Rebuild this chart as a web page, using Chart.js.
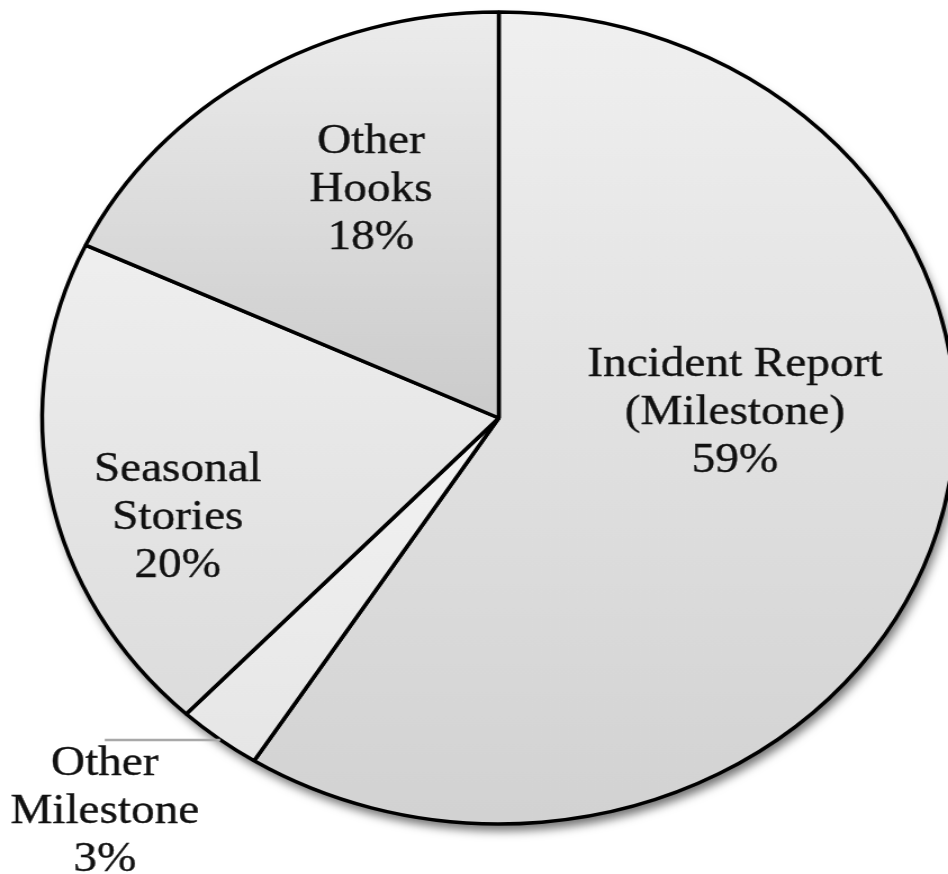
<!DOCTYPE html>
<html>
<head>
<meta charset="utf-8">
<script src="https://cdn.jsdelivr.net/npm/chart.js@4/dist/chart.umd.min.js"></script>
<style>
  html, body { margin: 0; padding: 0; background: #ffffff; overflow: hidden; }
  #wrap { width: 843px; height: 874px; transform: scaleX(1.1246); transform-origin: 0 0; }
</style>
</head>
<body>
<div id="wrap"><canvas id="pie" width="843" height="874"></canvas></div>
<script>
// data
const categories = ['Incident Report (Milestone)', 'Other Milestone', 'Seasonal Stories', 'Other Hooks'];
const shares = [59, 3, 20, 18];
const labelLines = [
    ['Incident Report', '(Milestone)', '59%'],
    ['Other', 'Milestone', '3%'],
    ['Seasonal', 'Stories', '20%'],
    ['Other', 'Hooks', '18%']
];

// styling
const gradTop = ['#f0f0f0', '#f3f3f3', '#efefef', '#ececec'];
const gradBottom = ['#d2d2d2', '#e6e6e6', '#dcdcdc', '#cbcbcb'];
// label anchor, in radius units from the pie centre
const labelAt = [[0.517, -0.012], [-0.863, 0.97], [-0.703, 0.246], [-0.28, -0.562]];
const FONT = '42px "Liberation Serif", serif';
const LINE_H = 48;
const PIE_R = 406;

function sliceGradient(context) {
    const chart = context.chart;
    const area = chart.chartArea;
    const i = context.dataIndex;
    if (!area) return gradTop[i];
    const cx = (area.left + area.right) / 2;
    const cy = (area.top + area.bottom) / 2;
    const total = shares.reduce((a, b) => a + b, 0);
    const before = shares.slice(0, i).reduce((a, b) => a + b, 0);
    const start = -Math.PI / 2 + before / total * Math.PI * 2;
    const end = start + shares[i] / total * Math.PI * 2;
    let minY = cy, maxY = cy;
    for (let k = 0; k <= 90; k++) {
        const a = start + (end - start) * k / 90;
        const py = cy + Math.sin(a) * PIE_R;
        minY = Math.min(minY, py);
        maxY = Math.max(maxY, py);
    }
    const g = chart.ctx.createLinearGradient(cx, minY, cx, maxY);
    g.addColorStop(0, gradTop[i]);
    g.addColorStop(1, gradBottom[i]);
    return g;
}

const shadowPlugin = {
    id: 'pieShadow',
    beforeDatasetsDraw(chart) {
        const arc = chart.getDatasetMeta(0).data[0];
        if (!arc) return;
        const ctx = chart.ctx;
        ctx.save();
        ctx.shadowColor = 'rgba(0,0,0,0.55)';
        ctx.shadowBlur = 10;
        ctx.shadowOffsetX = 3;
        ctx.shadowOffsetY = 7;
        ctx.fillStyle = '#d8d8d8';
        ctx.beginPath();
        ctx.arc(arc.x, arc.y, arc.outerRadius, 0, Math.PI * 2);
        ctx.fill();
        ctx.restore();
    }
};

const labelPlugin = {
    id: 'sliceLabels',
    afterDatasetsDraw(chart) {
        const meta = chart.getDatasetMeta(0);
        const ctx = chart.ctx;
        ctx.save();
        ctx.font = FONT;
        ctx.fillStyle = '#111111';
        ctx.strokeStyle = '#111111';
        ctx.lineWidth = 0.35;
        ctx.textAlign = 'center';
        ctx.textBaseline = 'middle';
        meta.data.forEach((arc, i) => {
            const r = arc.outerRadius;
            const cx = arc.x + labelAt[i][0] * r;
            const cy = arc.y + labelAt[i][1] * r;
            labelLines[i].forEach((line, j) => {
                ctx.fillText(line, cx, cy + (j - 1) * LINE_H);
                ctx.strokeText(line, cx, cy + (j - 1) * LINE_H);
            });
        });
        // leader line for the small slice
        const small = meta.data[1];
        const r = small.outerRadius;
        ctx.strokeStyle = '#a8a8a8';
        ctx.lineWidth = 2.5;
        ctx.beginPath();
        ctx.moveTo(small.x + labelAt[1][0] * r, small.y + 0.793 * r);
        ctx.lineTo(small.x - 0.61 * r, small.y + 0.793 * r);
        ctx.stroke();
        ctx.restore();
    }
};

new Chart(document.getElementById('pie'), {
    type: 'pie',
    data: {
        labels: categories,
        datasets: [{
            data: shares,
            backgroundColor: sliceGradient,
            borderColor: '#000000',
            borderWidth: 3.5
        }]
    },
    options: {
        responsive: false,
        animation: false,
        radius: PIE_R,
        layout: { padding: { left: 44, bottom: 38 } },
        plugins: {
            legend: { display: false },
            tooltip: { enabled: false }
        }
    },
    plugins: [shadowPlugin, labelPlugin]
});
</script>
</body>
</html>
